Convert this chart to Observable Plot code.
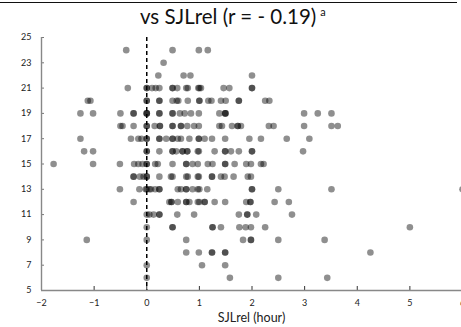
<!DOCTYPE html>
<html>
<head>
<meta charset="utf-8">
<script src="https://cdn.jsdelivr.net/npm/d3@7"></script>
<script src="https://cdn.jsdelivr.net/npm/@observablehq/plot@0.6"></script>
<style>
  html, body { margin: 0; padding: 0; background: #fff; overflow: hidden; }
  #wrap { position: relative; width: 461px; height: 327px; }
  #topline { position: absolute; left: 0; top: 2px; width: 457px; height: 0; border-top: 1.5px solid #111; }
  #title { position: absolute; left: 140px; top: 4px; font-family: Lato, "Open Sans", sans-serif; font-size: 20.5px; color: #111; white-space: nowrap; }
  #title sup { font-size: 11px; vertical-align: 8px; margin-left: 4px; }
  svg { display: block; }
</style>
</head>
<body>
<div id="wrap">
  <div id="topline"></div>
  <div id="chart"></div>
  <div id="title">vs SJLrel (r = - 0.19)<sup>a</sup></div>
</div>
<script>
// Score rows (y) and the SJLrel values (hours, x) of the participants in each row
const rowScores = [24, 23, 22, 21, 20, 19, 18, 17, 16, 15, 14, 13, 12, 11, 10, 9, 8, 7, 6];
const rowSJLrel = [
  [-0.39, 0.49, 0.99, 1.16],
  [0.32],
  [0.22, 0.70, 0.83, 2.0],
  [-0.36, 0, 0, 0.1, 0.17, 0.24, 0.49, 0.49, 0.58, 0.75, 0.78, 0.98, 1.0, 1.03, 1.46, 1.57, 2.0, 2.0],
  [-1.12, -1.07, 0, 0, 0.24, 0.24, 0.49, 0.57, 0.6, 0.78, 1.0, 1.0, 1.17, 1.23, 1.41, 1.5, 1.75, 1.75, 2.25, 2.33],
  [-1.26, -1.02, -0.5, -0.25, -0.25, 0, 0, 0, 0.24, 0.24, 0.49, 0.49, 0.63, 0.72, 0.84, 0.99, 1.38, 1.49, 1.49, 1.5, 2.99, 3.25, 3.51],
  [-0.5, -0.46, -0.25, 0, 0, 0.15, 0.25, 0.25, 0.49, 0.49, 0.65, 0.65, 0.77, 0.9, 0.99, 1.38, 1.43, 1.62, 1.73, 1.73, 1.79, 2.32, 2.41, 2.99, 3.51, 3.63],
  [-1.26, -0.3, -0.16, -0.1, 0, 0, 0.24, 0.24, 0.37, 0.49, 0.49, 0.59, 0.65, 0.81, 0.99, 0.99, 1.1, 1.24, 1.49, 1.95, 2.17, 2.66, 3.09],
  [-1.19, -1.02, 0, 0, 0.24, 0.49, 0.49, 0.56, 0.68, 0.68, 0.77, 0.77, 0.97, 0.99, 1.29, 1.49, 1.49, 1.6, 1.75, 2.0, 2.0, 2.97],
  [-1.77, -1.02, -0.51, -0.24, -0.16, -0.08, 0, 0, 0.16, 0.21, 0.49, 0.75, 0.75, 0.87, 0.97, 1.16, 1.25, 1.49, 1.49, 1.67, 1.89, 1.98, 2.17, 2.22],
  [-0.25, -0.25, -0.13, -0.06, 0, 0, 0.24, 0.46, 0.49, 0.75, 0.78, 0.97, 0.99, 1.24, 1.24, 1.41, 1.48, 1.65, 1.92, 1.98],
  [-0.51, -0.14, -0.02, 0, 0.05, 0.08, 0.16, 0.24, 0.24, 0.59, 0.65, 0.75, 0.75, 0.87, 0.97, 1.0, 1.15, 2.0, 2.0, 2.5, 3.51, 6.0],
  [-0.25, 0.43, 0.47, 0.47, 0.59, 0.75, 0.75, 0.81, 0.97, 1.0, 1.1, 1.1, 1.29, 1.49, 1.89, 1.97, 1.97, 2.43, 2.7],
  [0, 0.05, 0.13, 0.24, 0.24, 0.58, 0.9, 1.75, 1.91, 1.91, 2.08, 2.76],
  [0, 0.49, 0.49, 1.25, 1.25, 1.41, 1.76, 1.88, 1.98, 2.25, 5.0],
  [-1.14, 0, 0.75, 1.83, 1.98, 1.98, 2.5, 3.38],
  [0.75, 0.99, 1.24, 1.24, 1.49, 1.49, 4.25],
  [0, 1.05, 1.49],
  [0, 1.58, 2.5, 3.43]
];
const yTicks = [5, 7, 9, 11, 13, 15, 17, 19, 21, 23, 25];
const xTicks = [-2, -1, 0, 1, 2, 3, 4, 5, 6];
const xLabel = "SJLrel (hour)";

const points = rowScores.flatMap((score, i) => rowSJLrel[i].map(sjl => ({sjl, score})));

const chart = Plot.plot({
  width: 461,
  height: 327,
  marginTop: 37,
  marginBottom: 37,
  marginLeft: 41,
  marginRight: 0,
  x: {domain: [-2, 6], range: [41, 462]},
  y: {domain: [5, 25], range: [290, 37]},
  style: {fontFamily: "Lato, 'Open Sans', sans-serif", fontSize: "9px", color: "#222", background: "#fff"},
  marks: [
    Plot.ruleX([0], {stroke: "#000", strokeWidth: 1.5, strokeDasharray: "4,3"}),
    Plot.dot(points, {x: "sjl", y: "score", r: 3.3, fill: "#000", fillOpacity: 0.44, stroke: null}),
    Plot.axisY(yTicks, {anchor: "left", tickSize: -3, tickPadding: 13, stroke: "#777", label: null}),
    Plot.axisX(xTicks, {anchor: "bottom", tickSize: -4, tickPadding: 13, stroke: "#333", label: null}),
    Plot.ruleY([5], {stroke: "#888", strokeWidth: 1.4}),
    Plot.ruleX([-2], {stroke: "#888", strokeWidth: 1.4}),
    Plot.text([xLabel], {frameAnchor: "bottom", dy: 31, fontSize: 12.5, fill: "#222"})
  ]
});
document.getElementById("chart").appendChild(chart);
</script>
</body>
</html>
